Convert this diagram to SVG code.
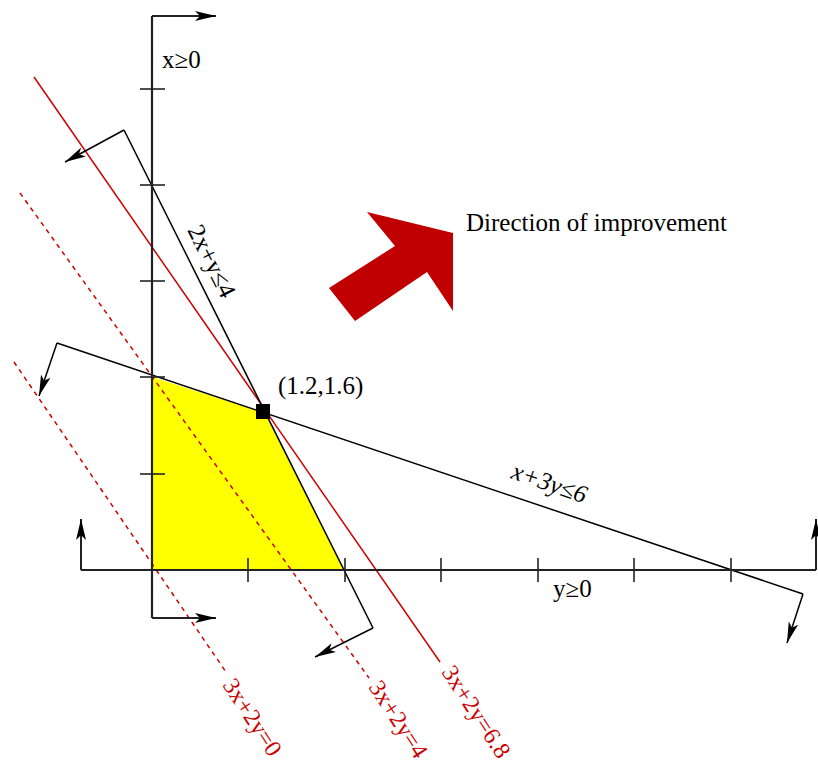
<svg xmlns="http://www.w3.org/2000/svg" width="818" height="765" viewBox="0 0 818 765">
<style>
.ax{fill:none;stroke:#222;stroke-width:2.2}
.tk{fill:none;stroke:#222;stroke-width:1.6}
.con{fill:none;stroke:#000;stroke-width:1.5}
.arr{fill:none;stroke:#000;stroke-width:1.5;marker-end:url(#ah)}
.axarr{fill:none;stroke:#222;stroke-width:2;marker-end:url(#ah)}
.obj{fill:none;stroke:#cc0000;stroke-width:1.5}
.objd{fill:none;stroke:#cc0000;stroke-width:1.5;stroke-dasharray:4.5 4.5}
.lbl{font-family:"Liberation Serif","Times New Roman",serif;font-size:25px;fill:#000}
.rlbl{font-family:"Liberation Serif","Times New Roman",serif;font-size:24px;fill:#cc0000}
</style>
<defs>
<marker id="ah" viewBox="0 0 21 11" refX="21" refY="5.5" markerWidth="21" markerHeight="11" markerUnits="userSpaceOnUse" orient="auto">
<path d="M0,0.5 L21,5.5 L0,10.5 L5,5.5 Z" fill="#000"/>
</marker>
</defs>
<rect width="818" height="765" fill="#fff"/>
<g id="feasible-region">
<polygon points="152,377 265.6,413.2 345,570 152,570" fill="#ffff00"/>
</g>
<g id="connectors">
<line class="obj" x1="34" y1="77" x2="440" y2="662"/>
<line class="objd" x1="20" y1="193" x2="369" y2="678"/>
<line class="objd" x1="14" y1="362" x2="226" y2="672"/>
<line class="con" x1="124" y1="130" x2="373" y2="628"/>
<line class="arr" x1="124" y1="130" x2="65" y2="162"/>
<line class="arr" x1="373" y1="628" x2="315" y2="657"/>
<line class="con" x1="57" y1="343" x2="803" y2="594"/>
<line class="arr" x1="57" y1="343" x2="39" y2="396"/>
<line class="arr" x1="803" y1="594" x2="787" y2="643"/>
</g>
<g id="x-axis">
<line class="ax" x1="81" y1="570" x2="816" y2="570"/>
<line class="axarr" x1="81" y1="570" x2="81" y2="519"/>
<line class="axarr" x1="816" y1="570" x2="816" y2="519"/>
<g class="tk">
<line x1="248" y1="558" x2="248" y2="582"/>
<line x1="345" y1="558" x2="345" y2="582"/>
<line x1="441" y1="558" x2="441" y2="582"/>
<line x1="538" y1="558" x2="538" y2="582"/>
<line x1="634" y1="558" x2="634" y2="582"/>
<line x1="731" y1="558" x2="731" y2="582"/>
</g>
<text class="lbl" x="553" y="597">y≥0</text>
</g>
<g id="y-axis">
<line class="ax" x1="152" y1="618" x2="152" y2="16"/>
<line class="axarr" x1="152" y1="618" x2="216" y2="618"/>
<line class="axarr" x1="152" y1="16" x2="216" y2="16"/>
<g class="tk">
<line x1="140" y1="89" x2="165" y2="89"/>
<line x1="140" y1="185" x2="165" y2="185"/>
<line x1="140" y1="281" x2="165" y2="281"/>
<line x1="140" y1="377" x2="165" y2="377"/>
<line x1="140" y1="474" x2="165" y2="474"/>
</g>
<text class="lbl" x="162" y="68">x≥0</text>
</g>
<g id="optimum">
<rect x="256" y="404" width="14" height="15" fill="#000"/>
<text class="lbl" x="278" y="394">(1.2,1.6)</text>
</g>
<g id="label-c1">
<text class="lbl" transform="translate(187,230) rotate(63.4)">2x+y≤4</text>
</g>
<g id="label-c2">
<text class="lbl" font-style="italic" transform="translate(510,478) rotate(19)">x+3y≤6</text>
</g>
<g id="label-obj">
<text class="rlbl" transform="translate(222,685) rotate(57)">3x+2y=0</text>
<text class="rlbl" transform="translate(368,687) rotate(57)">3x+2y=4</text>
<text class="rlbl" transform="translate(441,672) rotate(57)">3x+2y=6.8</text>
</g>
<g id="improvement">
<polygon points="329,288 355,321 427,272 453,311 453,233 367,212 395,246" fill="#c00000"/>
<text class="lbl" x="466" y="231">Direction of improvement</text>
</g>
</svg>
